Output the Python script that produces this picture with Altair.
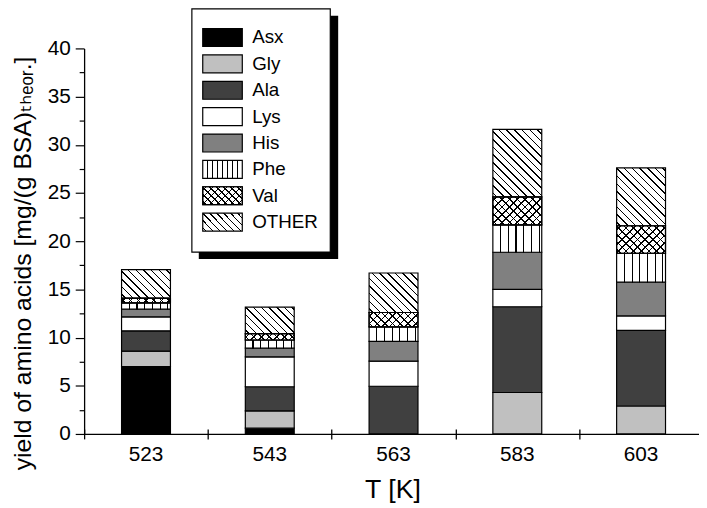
import math
import altair as alt

# ---------------- data ----------------
temps = ["523", "543", "563", "583", "603"]
species = ["Asx", "Gly", "Ala", "Lys", "His", "Phe", "Val", "OTHER"]
asx = [7.0, 0.6, 0.0, 0.0, 0.0]
gly = [1.6, 1.8, 0.0, 4.3, 2.9]
ala = [2.1, 2.5, 4.95, 8.9, 7.85]
lys = [1.45, 3.1, 2.6, 1.8, 1.5]
his = [0.8, 0.9, 2.05, 3.85, 3.5]
phe = [0.65, 0.85, 1.5, 2.85, 3.0]
val = [0.5, 0.65, 1.5, 2.9, 2.85]
other = [2.95, 2.75, 4.1, 7.0, 6.0]
y_ticks = [i * 2.5 for i in range(17)]

# ---------------- layout / style ----------------
FONT = "Liberation Sans, Arial, DejaVu Sans"
PLOT_W = 622
RANGE_W = 626
PLOT_H = 390
Y_MAX = 40
BAND = 0.395
bar_px = BAND * RANGE_W / len(temps)
px_per_unit = PLOT_H / Y_MAX

styles = {
    "Asx": ("solid", "#000000"),
    "Gly": ("solid", "#c0c0c0"),
    "Ala": ("solid", "#404040"),
    "Lys": ("solid", "#ffffff"),
    "His": ("solid", "#808080"),
    "Phe": ("vert", None),
    "Val": ("cross", None),
    "OTHER": ("back", None),
}
cols = dict(zip(species, [asx, gly, ala, lys, his, phe, val, other]))


def stripes(kind, w, h, spacing, lw=1.1, bg="#ffffff", fg="#000000"):
    if kind == "vert":
        x1, y1, x2, y2 = 0, 0, 1, 0
        span = w
        start = spacing
    else:
        k = (w + h) / (w * w + h * h)
        span = (w + h) / math.sqrt(2)
        start = spacing / 2
        if kind == "back":
            x1, y1, x2, y2 = 0, 1, k * w, 1 - k * h
        else:
            x1, y1, x2, y2 = 0, 0, k * w, k * h
    stops = [{"offset": 0, "color": bg}]
    c = start
    while c + lw / 2 < span - 0.5:
        a = round((c - lw / 2) / span, 5)
        b = round((c + lw / 2) / span, 5)
        stops += [
            {"offset": a, "color": bg},
            {"offset": a, "color": fg},
            {"offset": b, "color": fg},
            {"offset": b, "color": bg},
        ]
        c += spacing
    stops.append({"offset": 1, "color": bg})
    return {"gradient": "linear", "x1": x1, "y1": y1, "x2": x2, "y2": y2, "stops": stops}


def fills(sp, w, h, vspace, dspace):
    kind, color = styles[sp]
    if kind == "solid":
        return color, None
    if kind == "vert":
        return stripes("vert", w, h, vspace), None
    if kind == "back":
        return stripes("back", w, h, dspace), None
    return (stripes("back", w, h, dspace),
            stripes("fwd", w, h, dspace, bg="rgba(0,0,0,0)"))


records = []
for i, t in enumerate(temps):
    base = 0.0
    for sp in species:
        v = cols[sp][i]
        if v <= 0:
            continue
        f, o = fills(sp, bar_px, v * px_per_unit, 7.8, 5.5)
        records.append({"T": t, "species": sp, "y0": base, "y1": base + v,
                        "fill": f, "over": o})
        base += v

leg_records = []
for i, sp in enumerate(species):
    f, o = fills(sp, 40, 18, 5.0, 5.0)
    leg_records.append({"species": sp, "lo": i + 0.16, "hi": i + 0.84,
                        "mid": i + 0.5, "fill": f, "over": o})

bar_data = alt.Data(values=records)
leg_data = alt.Data(values=leg_records)
one = alt.Data(values=[{"a": 1}])

x_scale = alt.Scale(domain=temps, range=[0, RANGE_W], paddingInner=0, paddingOuter=0)
y_scale = alt.Scale(domain=[0, Y_MAX], nice=False, zero=True)

y_axis = alt.Axis(
    values=y_ticks,
    labelExpr="datum.value % 5 === 0 ? datum.label : ''",
    tickSize={"condition": {"test": "datum.value % 5 === 0", "value": 9}, "value": 5},
    tickColor="black", tickWidth=1.2, domainColor="black", domainWidth=1.3,
    grid=False, labelFont=FONT, labelFontSize=21, labelColor="black", labelPadding=5,
    title="yield of amino acids [mg/(g BSA)ₜₕₑₒᵣ.]",
    titleFont=FONT, titleFontSize=25, titleFontWeight="normal", titleColor="black",
    titleX=-62, titleY=217, titleBaseline="middle", titleAngle=270,
)

x_axis_bottom = alt.Axis(
    orient="bottom", ticks=False, tickSize=0, domain=True, domainColor="black",
    domainWidth=1.3, labelAngle=0, labelFont=FONT, labelFontSize=21,
    labelColor="black", labelPadding=10, title="T [K]", titleFont=FONT,
    titleFontSize=27, titleFontWeight="normal", titleColor="black",
    titleX=312, titleY=64, titleBaseline="alphabetic",
)
x_axis_ticks = alt.Axis(
    orient="top", offset=-(PLOT_H + 5), ticks=True, tickSize=10, tickBand="extent",
    tickColor="black", tickWidth=1.3, labels=False, domain=False, title=None,
)

bars = alt.Chart(bar_data).mark_bar(
    stroke="black", strokeWidth=1.2, width=alt.RelativeBandSize(BAND)
).encode(
    x=alt.X("T:N", sort=temps, scale=x_scale, axis=x_axis_bottom),
    y=alt.Y("y0:Q", scale=y_scale, axis=y_axis),
    y2="y1:Q",
    fill=alt.Fill("fill:N", scale=None, legend=None),
)

overlay = alt.Chart(bar_data).transform_filter("datum.over != null").mark_bar(
    stroke="black", strokeWidth=1.2, width=alt.RelativeBandSize(BAND)
).encode(
    x=alt.X("T:N", sort=temps, scale=x_scale, axis=x_axis_ticks),
    y=alt.Y("y0:Q", scale=y_scale, axis=None),
    y2="y1:Q",
    fill=alt.Fill("over:N", scale=None, legend=None),
)

# ---------------- legend (drawn by hand, for the hatch patterns) ----------------
ROW = 26.67
LEG_TOP = -24.33
leg_scale = alt.Scale(domain=[0, 8], range=[LEG_TOP, LEG_TOP + 8 * ROW], nice=False, zero=False)

shadow = alt.Chart(one).mark_rect(color="black").encode(
    x=alt.value(116), x2=alt.value(257), y=alt.value(-33), y2=alt.value(213)
)
box = alt.Chart(one).mark_rect(fill="white", stroke="black", strokeWidth=1.2).encode(
    x=alt.value(109), x2=alt.value(249), y=alt.value(-40), y2=alt.value(206)
)
leg_sym = alt.Chart(leg_data).mark_rect(stroke="black", strokeWidth=1.2).encode(
    x=alt.value(120), x2=alt.value(160),
    y=alt.Y("lo:Q", scale=leg_scale, axis=None), y2="hi:Q",
    fill=alt.Fill("fill:N", scale=None, legend=None),
)
leg_over = alt.Chart(leg_data).transform_filter("datum.over != null").mark_rect(
    stroke="black", strokeWidth=1.2
).encode(
    x=alt.value(120), x2=alt.value(160),
    y=alt.Y("lo:Q", scale=leg_scale, axis=None), y2="hi:Q",
    fill=alt.Fill("over:N", scale=None, legend=None),
)
leg_text = alt.Chart(leg_data).mark_text(
    align="left", baseline="middle", font=FONT, fontSize=19, color="black"
).encode(
    x=alt.value(170),
    y=alt.Y("mid:Q", scale=leg_scale, axis=None),
    text="species:N",
)

chart = alt.layer(
    bars, overlay, shadow, box, leg_sym, leg_over, leg_text
).resolve_scale(
    y="independent"
).resolve_axis(
    x="independent"
).properties(
    width=PLOT_W, height=PLOT_H,
    autosize=alt.AutoSizeParams(type="none"),
    padding={"left": 77, "top": 38, "right": 0, "bottom": 70},
    background="white",
).configure_view(strokeWidth=0)

chart.save("out.html", embed_options={"renderer": "svg", "actions": False})
